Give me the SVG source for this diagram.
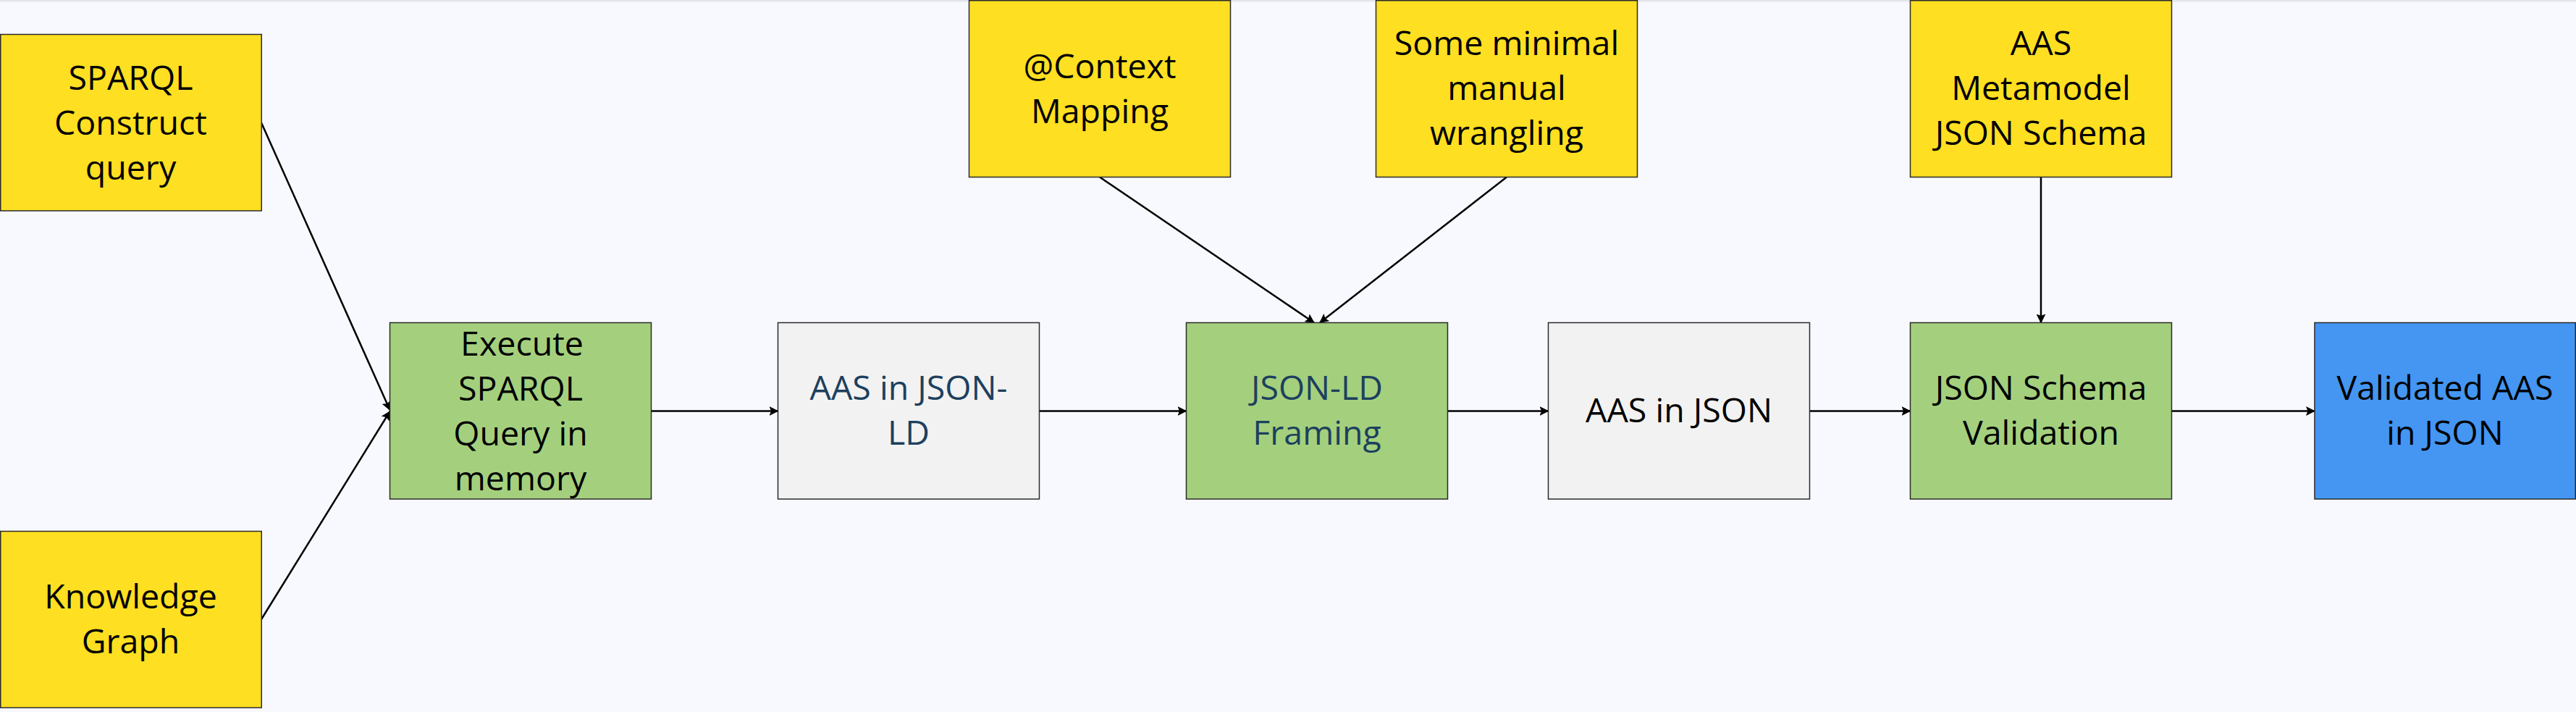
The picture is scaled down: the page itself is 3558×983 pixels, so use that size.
<svg xmlns="http://www.w3.org/2000/svg" width="3558" height="983" viewBox="0 0 3558 983">
<style>
  .box { stroke: #2b2b2b; stroke-width: 1.5; }
  .y { fill: #FFDF21; }
  .g { fill: #A4D07E; }
  .w { fill: #F2F2F2; }
  .b { fill: #4496F2; }
  text { font-family: "Open Sans", "Noto Sans", "Liberation Sans", sans-serif; font-size: 46.5px; text-anchor: middle; fill: #000000; }
  text.dk { fill: #1D405D; }
  .edge { stroke: #000000; stroke-width: 2.5; fill: none; marker-end: url(#arrow); }
</style>
<defs>
  <marker id="arrow" viewBox="0 0 13 13" refX="12" refY="6.5" markerWidth="13" markerHeight="13" markerUnits="userSpaceOnUse" orient="auto">
    <path d="M0,0 L13,6.5 L0,13 L2.5,6.5 Z" fill="#000000"/>
  </marker>
</defs>
<rect x="0" y="0" width="3558" height="983" fill="#F8F9FE"/>
<rect x="0" y="0" width="3558" height="2.5" fill="#E4E6EB"/>

<g id="connectors">
  <line class="edge" x1="361" y1="169.5" x2="538.5" y2="566"/>
  <line class="edge" x1="361" y1="855" x2="538.5" y2="568"/>
  <line class="edge" x1="899.5" y1="567.5" x2="1074.5" y2="567.5"/>
  <line class="edge" x1="1435.5" y1="567.5" x2="1638.5" y2="567.5"/>
  <line class="edge" x1="1999.5" y1="567.5" x2="2138.5" y2="567.5"/>
  <line class="edge" x1="2499.5" y1="567.5" x2="2638.5" y2="567.5"/>
  <line class="edge" x1="2999.5" y1="567.5" x2="3197" y2="567.5"/>
  <line class="edge" x1="1519" y1="244.5" x2="1815" y2="445.5"/>
  <line class="edge" x1="2081" y1="244.5" x2="1823" y2="445.5"/>
  <line class="edge" x1="2819" y1="244.5" x2="2819" y2="445.5"/>
</g>

<g id="sparql-construct">
  <rect class="box y" x="0.75" y="47.5" width="360.5" height="243.5"/>
  <text x="180.5" y="123.5">SPARQL</text>
  <text x="180.5" y="185.5">Construct</text>
  <text x="180.5" y="247.5">query</text>
</g>

<g id="knowledge-graph">
  <rect class="box y" x="0.75" y="733.5" width="360.5" height="243.5"/>
  <text x="180.5" y="840">Knowledge</text>
  <text x="180.5" y="902">Graph</text>
</g>

<g id="execute-sparql">
  <rect class="box g" x="538.5" y="445.5" width="361" height="243.5"/>
  <text x="721" y="491">Execute</text>
  <text x="719" y="553">SPARQL</text>
  <text x="719" y="615">Query in</text>
  <text x="719" y="677">memory</text>
</g>

<g id="aas-jsonld">
  <rect class="box w" x="1074.5" y="445.5" width="361" height="243.5"/>
  <text class="dk" x="1255" y="552">AAS in JSON-</text>
  <text class="dk" x="1255" y="614">LD</text>
</g>

<g id="jsonld-framing">
  <rect class="box g" x="1638.5" y="445.5" width="361" height="243.5"/>
  <text class="dk" x="1819" y="552">JSON-LD</text>
  <text class="dk" x="1819" y="614">Framing</text>
</g>

<g id="aas-json">
  <rect class="box w" x="2138.5" y="445.5" width="361" height="243.5"/>
  <text x="2319" y="583">AAS in JSON</text>
</g>

<g id="json-schema-validation">
  <rect class="box g" x="2638.5" y="445.5" width="361" height="243.5"/>
  <text x="2819" y="552">JSON Schema</text>
  <text x="2819" y="614">Validation</text>
</g>

<g id="validated-aas">
  <rect class="box b" x="3197" y="445.5" width="360.25" height="243.5"/>
  <text x="3377" y="552">Validated AAS</text>
  <text x="3377" y="614">in JSON</text>
</g>

<g id="context-mapping">
  <rect class="box y" x="1338.5" y="0.75" width="361" height="243.75"/>
  <text x="1519" y="108">@Context</text>
  <text x="1519" y="170">Mapping</text>
</g>

<g id="manual-wrangling">
  <rect class="box y" x="1900.5" y="0.75" width="361" height="243.75"/>
  <text x="2081" y="76">Some minimal</text>
  <text x="2081" y="138">manual</text>
  <text x="2081" y="200">wrangling</text>
</g>

<g id="aas-metamodel-schema">
  <rect class="box y" x="2638.5" y="0.75" width="361" height="243.75"/>
  <text x="2819" y="76">AAS</text>
  <text x="2819" y="138">Metamodel</text>
  <text x="2819" y="200">JSON Schema</text>
</g>
</svg>
